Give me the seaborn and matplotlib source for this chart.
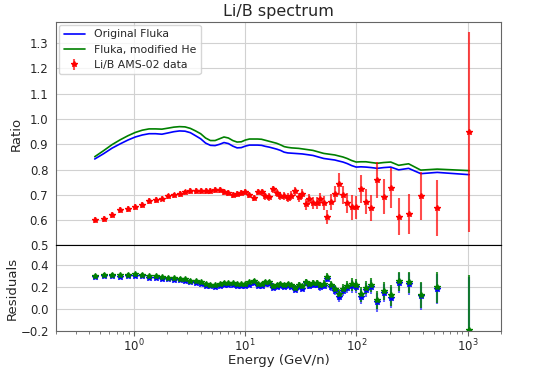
import numpy as np
import pandas as pd
import seaborn as sns
import matplotlib
matplotlib.use('Agg')
import matplotlib.pyplot as plt

# kinetic energy per nucleon (GeV/n) of the AMS-02 bins
energy = [0.446, 0.536, 0.639, 0.756, 0.887, 1.032, 1.194, 1.373, 1.571, 1.791,
          2.032, 2.294, 2.579, 2.891, 3.229, 3.595, 3.992, 4.420, 4.888, 5.382,
          5.902, 6.472, 7.092, 7.763, 8.484, 9.255, 10.08, 10.97, 11.95, 12.97,
          14.07, 15.24, 16.49, 17.84, 19.28, 20.83, 22.48, 24.25, 26.15, 28.18,
          30.35, 32.70, 35.22, 37.92, 40.82, 43.95, 47.32, 51.07, 55.07, 59.32,
          64.07, 69.57, 75.82, 82.82, 90.82, 99.82, 110.1, 122.1, 136.6, 154.3,
          176.3, 204.1, 240.6, 295.3, 380.0, 534.0, 1035.0]

# Li/B measured ratio and its error
lib_data = [0.601, 0.605, 0.620, 0.640, 0.645, 0.651, 0.661, 0.676, 0.679, 0.685,
            0.694, 0.698, 0.704, 0.710, 0.717, 0.715, 0.715, 0.715, 0.715, 0.718,
            0.718, 0.711, 0.709, 0.701, 0.704, 0.706, 0.711, 0.700, 0.688, 0.711,
            0.710, 0.694, 0.692, 0.722, 0.706, 0.696, 0.696, 0.689, 0.696, 0.715,
            0.690, 0.704, 0.663, 0.683, 0.669, 0.669, 0.683, 0.669, 0.611, 0.672,
            0.704, 0.742, 0.698, 0.669, 0.651, 0.651, 0.722, 0.673, 0.647, 0.759,
            0.693, 0.728, 0.614, 0.626, 0.696, 0.647, 0.949]
lib_err = [0.011, 0.011, 0.011, 0.011, 0.011, 0.011, 0.011, 0.011, 0.011, 0.011,
           0.011, 0.011, 0.011, 0.011, 0.012, 0.012, 0.012, 0.012, 0.012, 0.012,
           0.012, 0.012, 0.012, 0.012, 0.012, 0.012, 0.012, 0.012, 0.012, 0.012,
           0.014, 0.014, 0.015, 0.015, 0.016, 0.016, 0.017, 0.017, 0.018, 0.018,
           0.019, 0.020, 0.021, 0.022, 0.023, 0.024, 0.026, 0.027, 0.028, 0.030,
           0.032, 0.043, 0.036, 0.040, 0.049, 0.045, 0.056, 0.050, 0.052, 0.070,
           0.069, 0.080, 0.072, 0.079, 0.095, 0.110, 0.396]

# model predictions at the same energies
fluka_orig = [0.842, 0.863, 0.885, 0.902, 0.917, 0.929, 0.937, 0.942, 0.942, 0.940,
              0.945, 0.950, 0.953, 0.952, 0.946, 0.934, 0.922, 0.905, 0.896, 0.895,
              0.900, 0.907, 0.903, 0.893, 0.886, 0.887, 0.893, 0.897, 0.897, 0.897,
              0.896, 0.892, 0.889, 0.885, 0.881, 0.876, 0.869, 0.866, 0.865, 0.864,
              0.863, 0.862, 0.860, 0.858, 0.856, 0.852, 0.848, 0.844, 0.842, 0.840,
              0.838, 0.834, 0.830, 0.824, 0.816, 0.810, 0.811, 0.810, 0.808, 0.805,
              0.808, 0.810, 0.799, 0.805, 0.784, 0.789, 0.780]
fluka_mod = [0.851, 0.875, 0.899, 0.918, 0.934, 0.947, 0.956, 0.961, 0.961, 0.960,
             0.964, 0.968, 0.970, 0.969, 0.963, 0.953, 0.942, 0.925, 0.915, 0.915,
             0.922, 0.929, 0.925, 0.915, 0.909, 0.910, 0.917, 0.921, 0.921, 0.921,
             0.920, 0.916, 0.912, 0.908, 0.904, 0.898, 0.891, 0.888, 0.886, 0.885,
             0.884, 0.882, 0.880, 0.878, 0.876, 0.872, 0.868, 0.864, 0.862, 0.860,
             0.858, 0.854, 0.850, 0.844, 0.836, 0.830, 0.831, 0.831, 0.828, 0.825,
             0.828, 0.830, 0.817, 0.823, 0.798, 0.802, 0.796]

df = pd.DataFrame({'E': energy, 'data': lib_data, 'err': lib_err,
                   'orig': fluka_orig, 'mod': fluka_mod})

# residuals relative to each model
df['res_orig'] = 1 - df['data'] / df['orig']
df['res_mod'] = 1 - df['data'] / df['mod']
df['rerr_orig'] = df['err'] / df['orig']
df['rerr_mod'] = df['err'] / df['mod']

sns.set_style('whitegrid', {'axes.edgecolor': '0.4', 'grid.color': '0.82',
                            'xtick.bottom': True, 'ytick.left': False})
plt.rcParams['font.family'] = ['DejaVu Sans']

fig = plt.figure(figsize=(5.57, 3.68), dpi=100)
ax1 = fig.add_axes([0.1005, 0.333, 0.799, 0.608])
ax2 = fig.add_axes([0.1005, 0.1014, 0.799, 0.2316], sharex=ax1)

# top panel
sns.lineplot(data=df, x='E', y='orig', color='blue', lw=1.2, label='Original Fluka', ax=ax1)
sns.lineplot(data=df, x='E', y='mod', color='green', lw=1.2, label='Fluka, modified He', ax=ax1)
ax1.errorbar(df['E'], df['data'], yerr=df['err'], fmt='*', color='red', ms=4,
             ecolor=(1, 0, 0, 0.7), elinewidth=1.5, label='Li/B AMS-02 data')
ax1.set_xscale('log')
ax1.set_xlim(0.2, 2000)
ax1.set_ylim(0.5, 1.385)
ax1.set_yticks(np.arange(0.5, 1.31, 0.1))
ax1.set_ylabel('Ratio', fontsize=9.5, labelpad=5)
ax1.set_xlabel('')
ax1.set_title('Li/B spectrum', fontsize=11.5, pad=4)
ax1.tick_params(axis='x', which='both', labelbottom=False, bottom=False)
ax1.tick_params(axis='y', labelsize=8.5, pad=2)
ax1.legend(loc='upper left', fontsize=7.8, frameon=True, borderaxespad=0.3)
ax1.spines['bottom'].set_color('black')

# bottom panel: residuals
ax2.errorbar(df['E'], df['res_orig'], yerr=df['rerr_orig'], fmt='*', color='blue', ms=4,
             ecolor=(0, 0, 1, 0.6), elinewidth=1.5)
ax2.errorbar(df['E'], df['res_mod'], yerr=df['rerr_mod'], fmt='*', color='green', ms=4,
             ecolor=(0, 0.5, 0, 0.8), elinewidth=1.5)
ax2.set_ylim(-0.2, 0.575)
ax2.set_yticks([-0.2, 0.0, 0.2, 0.4])
ax2.set_ylabel('Residuals', fontsize=9.5, labelpad=1)
ax2.set_xlabel('Energy (GeV/n)', fontsize=9.5, labelpad=0)
ax2.tick_params(axis='both', labelsize=8.5, pad=1.5)
ax2.tick_params(axis='x', which='major', length=3.5, color='0.4')
ax2.tick_params(axis='x', which='minor', length=2, color='0.4')
ax2.spines['top'].set_color('black')

fig.savefig('out.png', dpi=100)
